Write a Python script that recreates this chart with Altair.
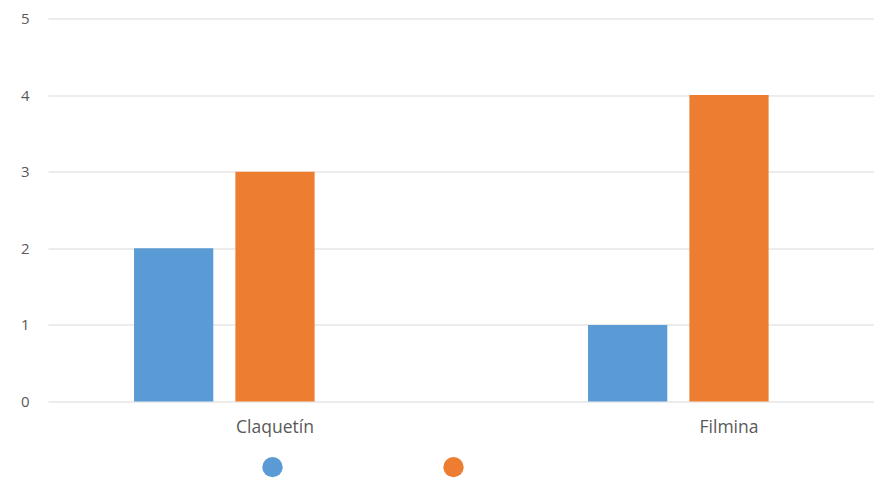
import altair as alt
import pandas as pd

categories = ["Claquetín", "Filmina"]
series_names = ["Serie 1", "Serie 2"]
serie1 = [2, 1]
serie2 = [3, 4]
y_ticks = [0, 1, 2, 3, 4, 5]

rows = []
for i, c in enumerate(categories):
    rows.append({"cat": c, "serie": series_names[0], "value": serie1[i]})
    rows.append({"cat": c, "serie": series_names[1], "value": serie2[i]})
df = pd.DataFrame(rows)

bars = alt.Chart(df).mark_bar().encode(
    x=alt.X("cat:N", sort=categories, title=None,
            scale=alt.Scale(range=[0, 908], paddingInner=0, paddingOuter=0),
            axis=alt.Axis(labelAngle=0, domain=False, ticks=False, labelPadding=17,
                          labelFont="Open Sans", labelFontSize=17.5, labelColor="#595959")),
    xOffset=alt.XOffset("serie:N",
                        scale=alt.Scale(domain=series_names + ["Serie 3"],
                                        paddingInner=0.218, paddingOuter=0.849)),
    y=alt.Y("value:Q", title=None,
            scale=alt.Scale(domain=[0, 5], nice=False),
            axis=alt.Axis(values=y_ticks, domain=False, ticks=False, labelPadding=19,
                          gridColor="#d9d9d9", gridWidth=1,
                          labelFont="Open Sans", labelFontSize=15, labelColor="#595959")),
    color=alt.Color("serie:N", sort=series_names,
                    scale=alt.Scale(domain=series_names, range=["#5B9BD5", "#ED7D31"]),
                    legend=alt.Legend(orient="none", direction="horizontal",
                                      legendX=214, legendY=438, title=None,
                                      symbolType="circle", symbolSize=415,
                                      symbolStrokeWidth=0, labelExpr="''",
                                      labelOffset=0, columnPadding=160, padding=0)),
)

chart = bars.properties(
    width=826, height=383,
    autosize=alt.AutoSizeParams(type="none"),
    padding={"left": 40, "top": 10.5, "right": 0, "bottom": 77},
).configure_view(stroke=None)

chart.save("out.html", embed_options={"renderer": "svg", "actions": False})
